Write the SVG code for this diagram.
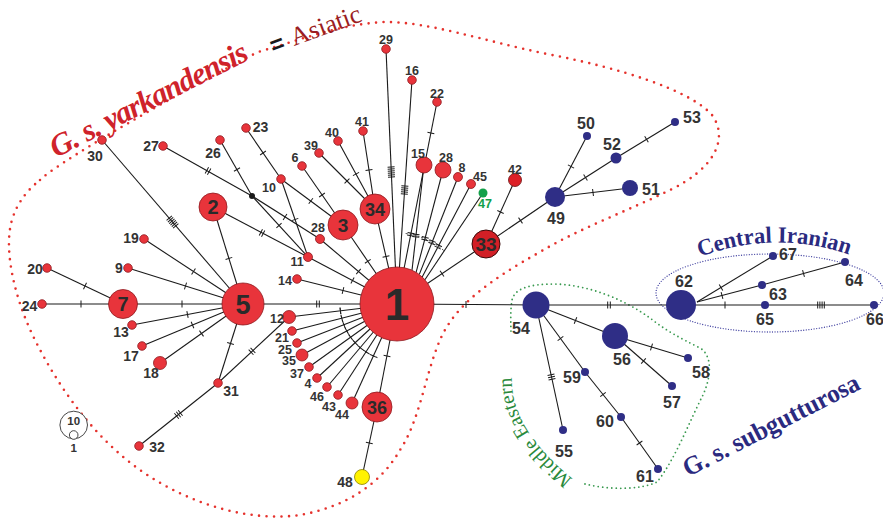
<svg xmlns="http://www.w3.org/2000/svg" xmlns:xlink="http://www.w3.org/1999/xlink" width="883" height="518" viewBox="0 0 883 518">
<style>
.e{stroke:#1a1a1a;stroke-width:1.1;fill:none}
.tk{stroke:#1a1a1a;stroke-width:1;fill:none}
.r{fill:#e8343b;stroke:#8e1b1f;stroke-width:.8}
.rd{fill:#d21f26;stroke:#3a0a0a;stroke-width:1}
.b{fill:#2f2e86}
.l{font-family:"Liberation Sans",Arial,sans-serif;font-weight:bold;font-size:12.5px;fill:#333;text-anchor:middle}
.L{font-size:14px}
.B{font-size:16px}
.n{font-family:"Liberation Sans",Arial,sans-serif;font-weight:bold;fill:#2a2a2a;text-anchor:middle}
.arc{stroke:#1a1a1a;stroke-width:.9;fill:none;stroke-dasharray:2 2}
</style>
<defs>
<g id="k1"><path d="M0,-3.5V3.5"/></g>
<g id="k2"><path d="M-1.3,-3.5V3.5M1.3,-3.5V3.5"/></g>
<g id="k3"><path d="M-2.4,-3.5V3.5M0,-3.5V3.5M2.4,-3.5V3.5"/></g>
<g id="k4"><path d="M-3.3,-3.5V3.5M-1.1,-3.5V3.5M1.1,-3.5V3.5M3.3,-3.5V3.5"/></g>
<g id="k5"><path d="M-4,-3.5V3.5M-2,-3.5V3.5M0,-3.5V3.5M2,-3.5V3.5M4,-3.5V3.5"/></g>
<g id="k6"><path d="M-5,-3.5V3.5M-3,-3.5V3.5M-1,-3.5V3.5M1,-3.5V3.5M3,-3.5V3.5M5,-3.5V3.5"/></g>
<path id="pCI" d="M700 257 Q775 229 850 255"/>
<path id="pME" d="M573 479 Q507.5 426 512 373"/>
</defs>
<rect width="883" height="518" fill="#fff"/>

<g id="groups">
<path d="M40 180 C55 165 150 108 258 52 C300 40 340 24 385 22 C430 22 480 40 547 54 C620 68 690 90 712 115 C730 140 712 170 670 190 C630 210 580 228 540 252 C490 280 455 305 440 340 C425 375 420 420 400 450 C380 485 345 507 300 515 C250 522 190 505 140 470 C95 438 60 390 35 340 C15 300 3 250 12 220 C18 200 30 188 40 180 Z" fill="none" stroke="#e5322d" stroke-width="2.6" stroke-linecap="round" stroke-dasharray="0 7.5"/>
<path d="M585 484 C610 490 640 490 657 482 C675 460 690 420 703 395 C712 375 712 355 700 348 C680 338 665 330 650 318 C625 300 590 285 555 284 C530 284 515 288 512 300 C510 312 511 325 511 335" fill="none" stroke="#3a9a50" stroke-width="1.8" stroke-linecap="round" stroke-dasharray="0 4.5"/>
<ellipse cx="770" cy="293" rx="114" ry="39" fill="none" stroke="#3f3f9f" stroke-width="1.3" stroke-linecap="round" stroke-dasharray="0 2.6"/>
</g>

<g id="connectors">
<g class="e">
<line x1="243" y1="304" x2="123" y2="304"/>
<line x1="123" y1="304" x2="42" y2="304"/>
<line x1="123" y1="304" x2="47" y2="268"/>
<line x1="243" y1="304" x2="128" y2="268"/>
<line x1="243" y1="304" x2="144" y2="239"/>
<line x1="243" y1="304" x2="132" y2="325"/>
<line x1="243" y1="304" x2="142" y2="346"/>
<line x1="243" y1="304" x2="160" y2="363"/>
<line x1="243" y1="304" x2="213" y2="207"/>
<line x1="243" y1="304" x2="218" y2="383"/>
<line x1="243" y1="304" x2="102" y2="140"/>
<line x1="218" y1="383" x2="289" y2="317"/>
<line x1="218" y1="383" x2="139" y2="446"/>
<line x1="213" y1="207" x2="308" y2="257"/>
<line x1="163" y1="146" x2="252" y2="196"/>
<line x1="220" y1="140" x2="252" y2="196"/>
<line x1="252" y1="196" x2="308" y2="257"/>
<line x1="252" y1="196" x2="320" y2="239"/>
<line x1="246" y1="128" x2="281" y2="179"/>
<line x1="281" y1="179" x2="308" y2="257"/>
<line x1="281" y1="179" x2="343" y2="225"/>
<line x1="302" y1="166" x2="343" y2="225"/>
<line x1="319" y1="153" x2="375" y2="209"/>
<line x1="338" y1="141" x2="375" y2="209"/>
<line x1="363" y1="131" x2="375" y2="209"/>
<line x1="343" y1="225" x2="397" y2="304"/>
<line x1="320" y1="239" x2="397" y2="304"/>
<line x1="308" y1="257" x2="397" y2="304"/>
<line x1="297" y1="279" x2="397" y2="304"/>
<line x1="375" y1="209" x2="397" y2="304"/>
<line x1="386" y1="49" x2="397" y2="304"/>
<line x1="412" y1="80" x2="397" y2="304"/>
<line x1="437" y1="102" x2="397" y2="304"/>
<line x1="424" y1="165" x2="412" y2="270.2"/>
<line x1="443" y1="170" x2="416.1" y2="272.3"/>
<line x1="458" y1="177" x2="419.3" y2="274.4"/>
<line x1="471" y1="184" x2="422.2" y2="276.9"/>
<line x1="483" y1="193" x2="424.9" y2="279.7"/>
<line x1="486" y1="244" x2="397" y2="304"/>
<line x1="486" y1="244" x2="515" y2="180"/>
<line x1="486" y1="244" x2="555" y2="197"/>
<line x1="555" y1="197" x2="587" y2="136"/>
<line x1="555" y1="197" x2="616" y2="158"/>
<line x1="616" y1="158" x2="675" y2="122"/>
<line x1="555" y1="197" x2="630" y2="188"/>
<line x1="397" y1="304" x2="289" y2="317"/>
<line x1="397" y1="304" x2="292" y2="331"/>
<line x1="397" y1="304" x2="297" y2="343"/>
<line x1="397" y1="304" x2="302" y2="355"/>
<line x1="397" y1="304" x2="309" y2="367"/>
<line x1="397" y1="304" x2="317" y2="378"/>
<line x1="397" y1="304" x2="327" y2="387"/>
<line x1="397" y1="304" x2="338" y2="395"/>
<line x1="397" y1="304" x2="352" y2="403"/>
<line x1="397" y1="304" x2="377" y2="407"/>
<line x1="377" y1="407" x2="362" y2="477"/>
<line x1="397" y1="304" x2="243" y2="304"/>
<line x1="397" y1="304" x2="536" y2="305"/>
<line x1="536" y1="305" x2="681" y2="305"/>
<line x1="536" y1="305" x2="615" y2="336"/>
<line x1="615" y1="336" x2="688" y2="358"/>
<line x1="615" y1="336" x2="672" y2="386"/>
<line x1="536" y1="305" x2="585" y2="372"/>
<line x1="585" y1="372" x2="621" y2="417"/>
<line x1="621" y1="417" x2="658" y2="469"/>
<line x1="536" y1="305" x2="563" y2="430"/>
<line x1="697" y1="302" x2="773" y2="256"/>
<line x1="697" y1="302" x2="762" y2="285"/>
<line x1="762" y1="285" x2="845" y2="262"/>
<line x1="681" y1="305" x2="874" y2="305"/>
</g>
<g class="tk">
<use xlink:href="#k2" transform="translate(318,304)"/>
<use xlink:href="#k1" transform="translate(182,304)"/>
<use xlink:href="#k1" transform="translate(81,304)"/>
<use xlink:href="#k1" transform="translate(85,286) rotate(25.3)"/>
<use xlink:href="#k1" transform="translate(185.5,286) rotate(17.4)"/>
<use xlink:href="#k1" transform="translate(193.5,271.5) rotate(33.3)"/>
<use xlink:href="#k1" transform="translate(187.5,314.5) rotate(-10.7)"/>
<use xlink:href="#k1" transform="translate(192.5,325) rotate(-23)"/>
<use xlink:href="#k1" transform="translate(201.5,333.5) rotate(-35.6)"/>
<use xlink:href="#k1" transform="translate(228.9,258.4) rotate(72.8)"/>
<use xlink:href="#k1" transform="translate(230.5,343.5) rotate(107.6)"/>
<use xlink:href="#k6" transform="translate(172.5,222) rotate(49.3)"/>
<use xlink:href="#k2" transform="translate(252,351.3) rotate(-42.9)"/>
<use xlink:href="#k3" transform="translate(178.5,414.5) rotate(-38.6)"/>
<use xlink:href="#k2" transform="translate(262,233) rotate(27.8)"/>
<use xlink:href="#k2" transform="translate(208,171) rotate(29.3)"/>
<use xlink:href="#k1" transform="translate(237,169.5) rotate(60.3)"/>
<use xlink:href="#k1" transform="translate(279,225.5) rotate(47.4)"/>
<use xlink:href="#k1" transform="translate(285,217) rotate(32.3)"/>
<use xlink:href="#k1" transform="translate(263,153) rotate(55.5)"/>
<use xlink:href="#k1" transform="translate(295,219.5) rotate(70.9)"/>
<use xlink:href="#k1" transform="translate(310.8,201) rotate(36.6)"/>
<use xlink:href="#k1" transform="translate(322,195) rotate(55.2)"/>
<use xlink:href="#k1" transform="translate(347,181) rotate(45)"/>
<use xlink:href="#k1" transform="translate(356,174) rotate(61.4)"/>
<use xlink:href="#k1" transform="translate(369,170) rotate(81.3)"/>
<use xlink:href="#k1" transform="translate(367.8,261.3) rotate(55.6)"/>
<use xlink:href="#k1" transform="translate(358.5,271.5) rotate(40.2)"/>
<use xlink:href="#k1" transform="translate(352.5,280.5) rotate(27.8)"/>
<use xlink:href="#k1" transform="translate(343,290.5) rotate(14)"/>
<use xlink:href="#k1" transform="translate(386,256.5) rotate(77)"/>
<use xlink:href="#k6" transform="translate(391.3,172) rotate(87.5)"/>
<use xlink:href="#k5" transform="translate(404.6,190) rotate(93.8)"/>
<use xlink:href="#k1" transform="translate(430.9,133) rotate(101.2)"/>
<use xlink:href="#k2" transform="translate(410.8,234.4) rotate(101.2)"/>
<use xlink:href="#k2" transform="translate(415.9,235.6) rotate(96.5)"/>
<use xlink:href="#k2" transform="translate(425,238.7) rotate(104.7)"/>
<use xlink:href="#k2" transform="translate(432.1,242.3) rotate(111.7)"/>
<use xlink:href="#k2" transform="translate(438.2,246.3) rotate(117.7)"/>
<use xlink:href="#k1" transform="translate(442,273.6) rotate(-34)"/>
<use xlink:href="#k1" transform="translate(500.5,212) rotate(-65.6)"/>
<use xlink:href="#k1" transform="translate(520.5,220.5) rotate(-34.3)"/>
<use xlink:href="#k1" transform="translate(571,166.5) rotate(-62.3)"/>
<use xlink:href="#k1" transform="translate(585.5,177.5) rotate(-32.6)"/>
<use xlink:href="#k1" transform="translate(646.5,139.3) rotate(-31.4)"/>
<use xlink:href="#k1" transform="translate(593,192.5) rotate(-6.8)"/>
<use xlink:href="#k1" transform="translate(466,304.5)"/>
<use xlink:href="#k2" transform="translate(609,305)"/>
<use xlink:href="#k1" transform="translate(575.5,320.5) rotate(21.6)"/>
<use xlink:href="#k1" transform="translate(651.5,347) rotate(16.8)"/>
<use xlink:href="#k1" transform="translate(643.5,361) rotate(41.3)"/>
<use xlink:href="#k1" transform="translate(560.5,338.5) rotate(53.8)"/>
<use xlink:href="#k1" transform="translate(603,394.5) rotate(51.3)"/>
<use xlink:href="#k1" transform="translate(639.5,443) rotate(54.6)"/>
<use xlink:href="#k3" transform="translate(551.5,377) rotate(77.8)"/>
<use xlink:href="#k1" transform="translate(721,287.5) rotate(-31.2)"/>
<use xlink:href="#k1" transform="translate(722,295.5) rotate(-14.7)"/>
<use xlink:href="#k1" transform="translate(803.5,273.5) rotate(-15.5)"/>
<use xlink:href="#k1" transform="translate(725,305)"/>
<use xlink:href="#k4" transform="translate(821,305)"/>
<use xlink:href="#k1" transform="translate(369.3,443) rotate(102.1)"/>
<use xlink:href="#k1" transform="translate(387,356) rotate(101)"/>
<use xlink:href="#k1" transform="translate(340.4,310.8) rotate(-6.9)"/>
<use xlink:href="#k1" transform="translate(341.8,318.2) rotate(-14.4)"/>
<use xlink:href="#k1" transform="translate(343.9,324.7) rotate(-21.3)"/>
<use xlink:href="#k1" transform="translate(346.8,331) rotate(-28.2)"/>
<use xlink:href="#k1" transform="translate(350.6,337.2) rotate(-35.6)"/>
<use xlink:href="#k1" transform="translate(355.2,342.7) rotate(-42.8)"/>
<use xlink:href="#k1" transform="translate(360.2,347.6) rotate(-49.9)"/>
<use xlink:href="#k1" transform="translate(366,351.8) rotate(-57)"/>
<use xlink:href="#k1" transform="translate(373.4,355.9) rotate(-65.6)"/>
</g>
<path class="arc" d="M405.7 233.5 A71 71 0 0 1 444.5 251.2"/>
<path class="arc" d="M340.1 308 A57 57 0 0 0 377.5 357.6"/>
</g>

<g id="nodes">
<g id="n1"><circle class="r" cx="397" cy="304" r="37"/><text class="n" x="397" y="320" font-size="44">1</text></g>
<g id="n5"><circle class="r" cx="243" cy="304" r="21"/><text class="n" x="243" y="313.7" font-size="27">5</text></g>
<g id="n7"><circle class="r" cx="123" cy="304" r="14.5"/><text class="n" x="123" y="311.2" font-size="20">7</text></g>
<g id="n2"><circle class="r" cx="213" cy="207" r="14"/><text class="n" x="213" y="214.2" font-size="20">2</text></g>
<g id="n3"><circle class="r" cx="343" cy="225" r="15"/><text class="n" x="343" y="231.8" font-size="19">3</text></g>
<g id="n34"><circle class="r" cx="375" cy="209" r="15"/><text class="n" x="375" y="215.5" font-size="18">34</text></g>
<g id="n33"><circle class="rd" cx="486" cy="244" r="14"/><text class="n" x="486" y="250.8" font-size="19">33</text></g>
<g id="n36"><circle class="r" cx="377" cy="407" r="15"/><text class="n" x="377" y="413.5" font-size="18">36</text></g>
<g id="n20"><circle class="r" cx="47" cy="268" r="4.3"/><text class="l L" x="35" y="274">20</text></g>
<g id="n24"><circle class="r" cx="42" cy="304" r="4.3"/><text class="l L" x="29.5" y="311">24</text></g>
<g id="n19"><circle class="r" cx="144" cy="239" r="4.3"/><text class="l L" x="131" y="243">19</text></g>
<g id="n9"><circle class="r" cx="128" cy="268" r="4.3"/><text class="l L" x="119" y="272.7">9</text></g>
<g id="n13"><circle class="r" cx="132" cy="325" r="4.3"/><text class="l L" x="121" y="336.5">13</text></g>
<g id="n17"><circle class="r" cx="142" cy="346" r="4.3"/><text class="l L" x="131" y="361">17</text></g>
<g id="n18"><circle class="r" cx="160" cy="363" r="6.5"/><text class="l L" x="151" y="378">18</text></g>
<g id="n30"><circle class="r" cx="102" cy="140" r="4.3"/><text class="l L" x="95" y="161">30</text></g>
<g id="n27"><circle class="r" cx="163" cy="146" r="4.3"/><text class="l L" x="151" y="151">27</text></g>
<g id="n26"><circle class="r" cx="220" cy="140" r="4.3"/><text class="l L" x="213" y="158">26</text></g>
<g id="n23"><circle class="r" cx="246" cy="128" r="4.3"/><text class="l L" x="260.5" y="132">23</text></g>
<g id="n10"><circle class="r" cx="281" cy="179" r="4.3"/><text class="l" x="269" y="191.5">10</text></g>
<g id="mv"><circle cx="252" cy="196" r="3" fill="#1a1a1a"/></g>
<g id="n28a"><circle class="r" cx="320" cy="239" r="4.5"/><text class="l" x="318" y="231.5">28</text></g>
<g id="n11"><circle class="r" cx="308" cy="257" r="4.5"/><text class="l" x="297" y="265.5">11</text></g>
<g id="n14"><circle class="r" cx="297" cy="279" r="4.3"/><text class="l" x="285" y="284.5">14</text></g>
<g id="n12"><circle class="r" cx="289" cy="317" r="6.5"/><text class="l" x="277" y="322.5">12</text></g>
<g id="n21"><circle class="r" cx="292" cy="331" r="4.3"/><text class="l" x="282" y="341.5">21</text></g>
<g id="n25"><circle class="r" cx="297" cy="343" r="4.3"/><text class="l" x="285" y="353.5">25</text></g>
<g id="n35"><circle class="r" cx="302" cy="355" r="6"/><text class="l" x="289" y="364.5">35</text></g>
<g id="n37"><circle class="r" cx="309" cy="367" r="4.3"/><text class="l" x="297" y="377.5">37</text></g>
<g id="n4"><circle class="r" cx="317" cy="378" r="4.3"/><text class="l" x="308" y="387.5">4</text></g>
<g id="n46"><circle class="r" cx="327" cy="387" r="4.3"/><text class="l" x="317" y="400.5">46</text></g>
<g id="n43"><circle class="r" cx="338" cy="395" r="4.3"/><text class="l" x="329" y="410.5">43</text></g>
<g id="n44"><circle class="r" cx="352" cy="403" r="6"/><text class="l" x="342" y="418.5">44</text></g>
<g id="n31"><circle class="r" cx="218" cy="383" r="4.3"/><text class="l L" x="231" y="395.7">31</text></g>
<g id="n32"><circle class="r" cx="139" cy="446" r="4.3"/><text class="l L" x="157" y="451.7">32</text></g>
<g id="n48"><circle cx="362" cy="477" r="7.5" fill="#fff200" stroke="#8a8000" stroke-width=".8"/><text class="l L" x="345" y="487">48</text></g>
<g id="n6"><circle class="r" cx="302" cy="166" r="4.3"/><text class="l" x="295" y="161.5">6</text></g>
<g id="n39"><circle class="r" cx="319" cy="153" r="4.3"/><text class="l" x="311" y="150">39</text></g>
<g id="n40"><circle class="r" cx="338" cy="141" r="4.3"/><text class="l" x="332" y="137">40</text></g>
<g id="n41"><circle class="r" cx="363" cy="131" r="4.3"/><text class="l" x="362" y="126">41</text></g>
<g id="n29"><circle class="r" cx="386" cy="49" r="4.3"/><text class="l" x="386" y="44">29</text></g>
<g id="n16"><circle class="r" cx="412" cy="80" r="4.3"/><text class="l" x="412" y="75">16</text></g>
<g id="n22"><circle class="r" cx="437" cy="102" r="4.3"/><text class="l" x="437" y="97.5">22</text></g>
<g id="n15"><circle class="r" cx="424" cy="165" r="8"/><text class="l" x="418" y="158">15</text></g>
<g id="n28b"><circle class="r" cx="443" cy="170" r="8"/><text class="l" x="446" y="162">28</text></g>
<g id="n8"><circle class="r" cx="458" cy="177" r="4.5"/><text class="l" x="462" y="172">8</text></g>
<g id="n45"><circle class="r" cx="471" cy="184" r="4.5"/><text class="l" x="480" y="181">45</text></g>
<g id="n47"><circle cx="483" cy="193" r="4.5" fill="#13a049"/><text class="l" x="485" y="208" style="fill:#13a049">47</text></g>
<g id="n42"><circle cx="515" cy="180" r="6.5" fill="#dd2027" stroke="#6a1010" stroke-width=".8"/><text class="l" x="515" y="174">42</text></g>
<g id="n49"><circle class="b" cx="555" cy="197" r="10"/><text class="l B" x="556" y="224">49</text></g>
<g id="n50"><circle class="b" cx="587" cy="136" r="4"/><text class="l B" x="586" y="129">50</text></g>
<g id="n52"><circle class="b" cx="616" cy="158" r="5.5"/><text class="l B" x="612" y="150">52</text></g>
<g id="n53"><circle class="b" cx="675" cy="122" r="4"/><text class="l B" x="692" y="122.5">53</text></g>
<g id="n51"><circle class="b" cx="630" cy="188" r="8"/><text class="l B" x="651" y="195">51</text></g>
<g id="n54"><circle class="b" cx="536" cy="305" r="13.5"/><text class="l B" x="521" y="334">54</text></g>
<g id="n56"><circle class="b" cx="615" cy="336" r="13"/><text class="l B" x="622" y="365">56</text></g>
<g id="n58"><circle class="b" cx="688" cy="358" r="4"/><text class="l B" x="701" y="378">58</text></g>
<g id="n57"><circle class="b" cx="672" cy="386" r="4"/><text class="l B" x="672" y="408">57</text></g>
<g id="n59"><circle class="b" cx="585" cy="372" r="4"/><text class="l B" x="572" y="383">59</text></g>
<g id="n60"><circle class="b" cx="621" cy="417" r="4"/><text class="l B" x="605" y="427">60</text></g>
<g id="n61"><circle class="b" cx="658" cy="469" r="4"/><text class="l B" x="645" y="482">61</text></g>
<g id="n55"><circle class="b" cx="563" cy="430" r="4"/><text class="l B" x="564" y="457">55</text></g>
<g id="n62"><circle class="b" cx="681" cy="305" r="15"/><text class="l B" x="684" y="287">62</text></g>
<g id="n67"><circle class="b" cx="773" cy="256" r="4"/><text class="l B" x="788" y="260">67</text></g>
<g id="n64"><circle class="b" cx="845" cy="262" r="4"/><text class="l B" x="854" y="286">64</text></g>
<g id="n63"><circle class="b" cx="762" cy="285" r="4"/><text class="l B" x="778" y="300">63</text></g>
<g id="n65"><circle class="b" cx="765" cy="305" r="4"/><text class="l B" x="765" y="325">65</text></g>
<g id="n66"><circle class="b" cx="874" cy="305" r="4"/><text class="l B" x="875" y="325">66</text></g>
</g>

<g id="legend">
<circle cx="73.7" cy="425" r="13.8" fill="#fff" stroke="#333" stroke-width=".9"/>
<circle cx="73.7" cy="435" r="4.3" fill="#fff" stroke="#333" stroke-width=".9"/>
<text class="l" x="73.7" y="425" style="font-size:11.5px">10</text>
<text class="l" x="73.7" y="452" style="font-size:11.5px">1</text>
</g>

<g id="titles">
<text transform="translate(56,158) rotate(-27)" font-family="Liberation Serif,serif" font-weight="bold" font-style="italic" font-size="31" fill="#cf232b" textLength="218" lengthAdjust="spacing">G. s. yarkandensis</text>
<text x="277" y="52" transform="rotate(-20 277 44)" font-family="Liberation Sans,sans-serif" font-weight="bold" font-size="24" fill="#1a1a1a" text-anchor="middle">=</text>
<text x="294" y="46" transform="rotate(-20 294 46)" font-family="Liberation Serif,serif" font-size="26" fill="#9b1d22">Asiatic</text>
<text font-family="Liberation Serif,serif" font-weight="bold" font-size="23" fill="#2b2a80"><textPath xlink:href="#pCI" textLength="152" lengthAdjust="spacingAndGlyphs">Central Iranian</textPath></text>
<text transform="translate(688,477) rotate(-27)" font-family="Liberation Serif,serif" font-weight="bold" font-size="26" fill="#2b2a80" textLength="195" lengthAdjust="spacingAndGlyphs">G. s. subgutturosa</text>
<text font-family="Liberation Serif,serif" font-size="20" fill="#2a8a3c"><textPath xlink:href="#pME">Middle Eastern</textPath></text>
</g>
</svg>
